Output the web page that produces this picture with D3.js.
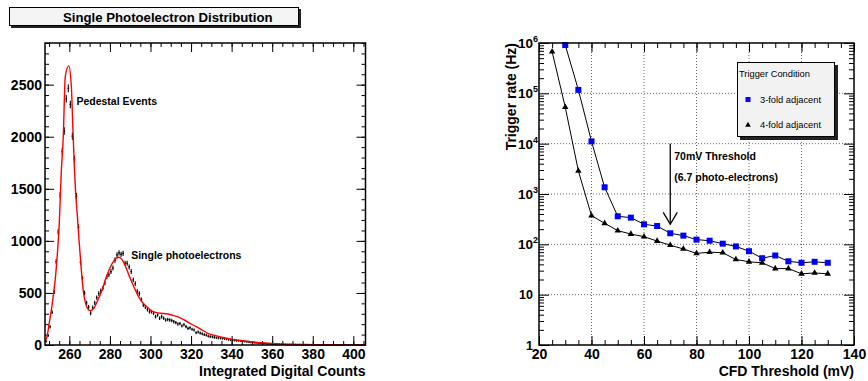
<!DOCTYPE html>
<html>
<head>
<meta charset="utf-8">
<script src="https://cdn.jsdelivr.net/npm/d3@7/dist/d3.min.js"></script>
<style>
	body { margin: 0; background: #fff; }
	svg { font-family: "Liberation Sans", Arial, Helvetica, sans-serif; }
</style>
</head>
<body>
<svg id="chart" width="868" height="381"></svg>
<script>
// ---- left panel: single photoelectron spectrum, 1 count bins starting at 248
var binStart = 248;
var binCounts = [
	35, 90, 175, 315, 510, 800, 1085, 1440, 1860, 2055,
	2365, 2465, 2310, 2005, 1785, 1430, 1130, 795, 640, 500,
	405, 365, 305, 360, 405, 455, 495, 520, 545, 595,
	655, 675, 705, 740, 815, 865, 885, 870, 880, 785,
	785, 750, 705, 625, 590, 515, 495, 435, 385, 365,
	340, 320, 320, 305, 272, 288, 257, 272, 257, 240,
	245, 240, 235, 224, 215, 202, 205, 183, 195, 176,
	160, 165, 151, 144, 118, 125, 115, 108, 100, 95,
	85, 80, 78, 74, 70, 68, 65, 64, 60, 57,
	52, 50, 48, 46, 44, 42, 40, 37, 34, 32,
	30, 27, 25, 22, 21, 19, 17, 15, 14, 12,
	11, 10, 9, 8, 7, 7, 6, 5, 5, 4,
	4, 3, 3, 3, 2, 3, 2, 2, 2, 1,
	2, 1, 1, 2, 1, 1, 1, 1, 1, 0,
	1, 1, 0, 1, 0, 1, 0, 0, 1, 0,
	0, 0, 1, 0, 0, 0, 0, 0
];
// fitted curve (red)
var fitX = [248.2, 249, 250, 251, 252, 253, 254, 255, 256, 257, 258, 259.7, 261, 261.8, 263, 264, 264.8, 266, 267, 268,
	269, 270.3, 272, 274, 276, 278, 280, 282, 284.3, 286, 288, 290, 292, 294, 296, 298, 300, 302, 305, 308,
	311, 314.7, 318, 321, 324.5, 328, 332, 336, 341, 346, 351, 356, 362, 369, 380, 390, 406];
var fitY = [40, 80, 200, 320, 460, 620, 850, 1150, 1650, 2000, 2580, 2680, 2480, 2050, 1500, 1230, 1000, 700, 500, 400,
	350, 330, 350, 430, 520, 640, 740, 810, 843, 820, 740, 640, 550, 470, 410, 370, 335, 315, 305, 300,
	285, 260, 225, 192, 155, 115, 90, 70, 52, 38, 28, 20, 12, 7, 4, 2, 1];
var spectrumXTicks = [260, 280, 300, 320, 340, 360, 380, 400];
var spectrumYTicks = [0, 500, 1000, 1500, 2000, 2500];

// ---- right panel: trigger rate vs CFD threshold
var thresholds3 = [30, 35, 40, 45, 50, 55, 60, 65, 70, 75, 80, 85, 90, 95, 100, 105, 110, 115, 120, 125, 130];
var rate3fold = [910000, 117000, 11100, 1360, 361, 339, 250, 231, 166, 149, 124, 118, 103, 91, 73, 53, 60, 46, 43, 45, 43];
var thresholds4 = [25, 30, 35, 40, 45, 50, 55, 60, 65, 70, 75, 80, 85, 90, 95, 100, 105, 110, 115, 120, 125, 130];
var rate4fold = [670000, 53000, 2870, 371, 262, 187, 160, 142, 116, 96, 81, 66, 70, 68, 50, 45, 43, 33, 33, 26, 27, 26];
var rateXTicks = [20, 40, 60, 80, 100, 120, 140];
var rateYTicks = [1, 10, 100, 1000, 10000, 100000, 1000000];

var svg = d3.select('#chart');

drawSpectrum();
drawRates();

function styleAxis(g, size) {
	g.attr('font-family', null).attr('font-size', size).attr('font-weight', 'bold');
	g.select('.domain').remove();
	g.selectAll('line').attr('stroke', '#000');
	g.selectAll('text').attr('fill', '#000');
}

function drawSpectrum() {
	var left = 45, right = 365.5, top = 43, bottom = 345;
	var x = d3.scaleLinear().domain([248, 406]).range([left, right]),
		y = d3.scaleLinear().domain([0, 2900]).range([bottom, top]);
	var g = svg.append('g');

	// title box
	g.append('rect').attr('x', 11).attr('y', 9).attr('width', 290).attr('height', 19).attr('fill', '#222');
	g.append('rect').attr('x', 9.5).attr('y', 7.5).attr('width', 289).attr('height', 18)
		.attr('fill', '#f4f4f4').attr('stroke', '#000').attr('stroke-width', 1);
	g.append('text').attr('x', 63).attr('y', 21.5)
		.attr('font-size', 13.2).attr('font-weight', 'bold').text('Single Photoelectron Distribution');

	var minorX = d3.range(250, 406, 5),
		minorY = d3.range(0, 2901, 100);

	g.append('g').attr('transform', 'translate(0,' + bottom + ')')
		.call(d3.axisBottom(x).tickValues(minorX).tickSize(-4).tickFormat(''))
		.call(styleAxis, 14);
	g.append('g').attr('transform', 'translate(0,' + bottom + ')')
		.call(d3.axisBottom(x).tickValues(spectrumXTicks).tickSize(-9).tickPadding(4).tickFormat(d3.format('d')))
		.call(styleAxis, 14);
	g.append('g').attr('transform', 'translate(0,' + top + ')')
		.call(d3.axisTop(x).tickValues(minorX).tickSize(-4).tickFormat(''))
		.call(styleAxis, 14);
	g.append('g').attr('transform', 'translate(0,' + top + ')')
		.call(d3.axisTop(x).tickValues(spectrumXTicks).tickSize(-9).tickFormat(''))
		.call(styleAxis, 14);
	g.append('g').attr('transform', 'translate(' + left + ',0)')
		.call(d3.axisLeft(y).tickValues(minorY).tickSize(-4).tickFormat(''))
		.call(styleAxis, 14);
	g.append('g').attr('transform', 'translate(' + left + ',0)')
		.call(d3.axisLeft(y).tickValues(spectrumYTicks).tickSize(-9).tickPadding(3).tickFormat(d3.format('d')))
		.call(styleAxis, 14);
	g.append('g').attr('transform', 'translate(' + right + ',0)')
		.call(d3.axisRight(y).tickValues(minorY).tickSize(-4).tickFormat(''))
		.call(styleAxis, 14);
	g.append('g').attr('transform', 'translate(' + right + ',0)')
		.call(d3.axisRight(y).tickValues(spectrumYTicks).tickSize(-9).tickFormat(''))
		.call(styleAxis, 14);

	// histogram points with error bars
	var bins = binCounts.map(function(v, i) {
		return { x0: binStart + i, x1: binStart + i + 1, v: v, err: 0.6 * Math.sqrt(v) };
	});
	var pts = g.append('g').attr('stroke', '#000').attr('stroke-width', 1.1);
	pts.selectAll('line.ev').data(bins).enter().append('line').attr('class', 'ev')
		.attr('x1', function(d) { return x((d.x0 + d.x1) / 2); })
		.attr('x2', function(d) { return x((d.x0 + d.x1) / 2); })
		.attr('y1', function(d) { return y(d.v - d.err) + 0.8; })
		.attr('y2', function(d) { return y(d.v + d.err) - 0.8; });
	pts.selectAll('line.eh').data(bins).enter().append('line').attr('class', 'eh')
		.attr('x1', function(d) { return x(d.x0) + 0.2; })
		.attr('x2', function(d) { return x(d.x1) - 0.2; })
		.attr('y1', function(d) { return y(d.v); })
		.attr('y2', function(d) { return y(d.v); });

	// fit
	var fit = fitX.map(function(v, i) { return [v, fitY[i]]; });
	g.append('path').datum(fit)
		.attr('fill', 'none').attr('stroke', '#f00').attr('stroke-width', 1.4)
		.attr('d', d3.line().x(function(d) { return x(d[0]); }).y(function(d) { return y(d[1]); }).curve(d3.curveMonotoneX));

	// frame
	g.append('rect').attr('x', left).attr('y', top).attr('width', right - left).attr('height', bottom - top)
		.attr('fill', 'none').attr('stroke', '#000').attr('stroke-width', 1.5);

	g.append('text').attr('x', x(263.5)).attr('y', 105).attr('font-size', 10.5).attr('font-weight', 'bold')
		.text('Pedestal Events');
	g.append('text').attr('x', x(290.5)).attr('y', 259).attr('font-size', 10.5).attr('font-weight', 'bold')
		.text('Single photoelectrons');
	g.append('text').attr('x', right).attr('y', 376).attr('text-anchor', 'end')
		.attr('font-size', 14).attr('font-weight', 'bold').text('Integrated Digital Counts');
}

function drawRates() {
	var left = 539, right = 854, top = 43, bottom = 345;
	var x = d3.scaleLinear().domain([20, 140]).range([left, right]),
		y = d3.scaleLog().domain([1, 1e6]).range([bottom, top]);
	var g = svg.append('g');

	// grid
	var grid = g.append('g').attr('stroke', '#666').attr('stroke-width', 1).attr('stroke-dasharray', '1,2');
	grid.selectAll('line.gx').data(rateXTicks.slice(1, -1)).enter().append('line')
		.attr('x1', function(d) { return x(d); }).attr('x2', function(d) { return x(d); })
		.attr('y1', top).attr('y2', bottom);
	grid.selectAll('line.gy').data(rateYTicks.slice(1, -1)).enter().append('line')
		.attr('y1', function(d) { return y(d); }).attr('y2', function(d) { return y(d); })
		.attr('x1', left).attr('x2', right);

	var minorX = d3.range(25, 140, 5),
		minorY = [];
	for (var k = 0; k < 6; k++) {
		for (var m = 2; m < 10; m++) minorY.push(m * Math.pow(10, k));
	}

	g.append('g').attr('transform', 'translate(0,' + bottom + ')')
		.call(d3.axisBottom(x).tickValues(minorX).tickSize(-5).tickFormat(''))
		.call(styleAxis, 14);
	g.append('g').attr('transform', 'translate(0,' + bottom + ')')
		.call(d3.axisBottom(x).tickValues(rateXTicks).tickSize(-9).tickPadding(4))
		.call(styleAxis, 14);
	g.append('g').attr('transform', 'translate(0,' + top + ')')
		.call(d3.axisTop(x).tickValues(minorX).tickSize(-5).tickFormat(''))
		.call(styleAxis, 14);
	g.append('g').attr('transform', 'translate(0,' + top + ')')
		.call(d3.axisTop(x).tickValues(rateXTicks).tickSize(-9).tickFormat(''))
		.call(styleAxis, 14);
	g.append('g').attr('transform', 'translate(' + left + ',0)')
		.call(d3.axisLeft(y).tickValues(minorY).tickSize(-5).tickFormat(''))
		.call(styleAxis, 14);
	g.append('g').attr('transform', 'translate(' + left + ',0)')
		.call(d3.axisLeft(y).tickValues(rateYTicks).tickSize(-10).tickFormat(''))
		.call(styleAxis, 14);
	g.append('g').attr('transform', 'translate(' + right + ',0)')
		.call(d3.axisRight(y).tickValues(minorY).tickSize(-5).tickFormat(''))
		.call(styleAxis, 14);
	g.append('g').attr('transform', 'translate(' + right + ',0)')
		.call(d3.axisRight(y).tickValues(rateYTicks).tickSize(-10).tickFormat(''))
		.call(styleAxis, 14);

	// log labels, 10^n with superscript
	var labels = g.append('g').attr('font-weight', 'bold').attr('text-anchor', 'end');
	rateYTicks.forEach(function(v) {
		var exp = Math.round(Math.log10(v));
		if (exp < 2) {
			labels.append('text').attr('x', left - 6).attr('y', y(v) + 4.5).attr('font-size', 12.5)
				.text(exp === 0 ? '1' : '10');
		} else {
			var t = labels.append('text').attr('x', left - 1).attr('y', y(v) + 5).attr('font-size', 13.5);
			t.append('tspan').text('10');
			t.append('tspan').attr('dy', -6).attr('font-size', 9).text(exp);
		}
	});

	// series
	var line = d3.line().x(function(d) { return x(d[0]); }).y(function(d) { return y(d[1]); });
	var s3 = thresholds3.map(function(t, i) { return [t, rate3fold[i]]; }),
		s4 = thresholds4.map(function(t, i) { return [t, rate4fold[i]]; });
	g.append('path').datum(s3).attr('fill', 'none').attr('stroke', '#000').attr('stroke-width', 1).attr('d', line);
	g.append('path').datum(s4).attr('fill', 'none').attr('stroke', '#000').attr('stroke-width', 1).attr('d', line);
	g.selectAll('rect.sq').data(s3).enter().append('rect').attr('class', 'sq')
		.attr('x', function(d) { return x(d[0]) - 3; }).attr('y', function(d) { return y(d[1]) - 3; })
		.attr('width', 6).attr('height', 6).attr('fill', '#0000ff');
	var tri = d3.symbol().type(d3.symbolTriangle).size(18);
	g.selectAll('path.tr').data(s4).enter().append('path').attr('class', 'tr')
		.attr('transform', function(d) { return 'translate(' + x(d[0]) + ',' + y(d[1]) + ')'; })
		.attr('d', tri).attr('fill', '#000');

	// frame
	g.append('rect').attr('x', left).attr('y', top).attr('width', right - left).attr('height', bottom - top)
		.attr('fill', 'none').attr('stroke', '#000').attr('stroke-width', 1.5);

	// threshold arrow
	var ax = x(70), a0 = y(10000), a1 = y(250);
	g.append('line').attr('x1', ax).attr('x2', ax).attr('y1', a0).attr('y2', a1).attr('stroke', '#000').attr('stroke-width', 1.3);
	g.append('path').attr('d', 'M' + (ax - 7) + ',' + (a1 - 12) + 'L' + ax + ',' + a1 + 'L' + (ax + 7) + ',' + (a1 - 12))
		.attr('fill', 'none').attr('stroke', '#000').attr('stroke-width', 1.3);
	g.append('text').attr('x', ax + 4).attr('y', 159.5).attr('font-size', 10.5).attr('font-weight', 'bold')
		.text('70mV Threshold');
	g.append('text').attr('x', ax + 4).attr('y', 180.5).attr('font-size', 10.5).attr('font-weight', 'bold')
		.text('(6.7 photo-electrons)');

	// legend
	var lg = g.append('g');
	lg.append('rect').attr('x', 740).attr('y', 65).attr('width', 98).attr('height', 75).attr('fill', '#222');
	lg.append('rect').attr('x', 737.5).attr('y', 62.5).attr('width', 97).attr('height', 74)
		.attr('fill', '#f2f2f2').attr('stroke', '#000').attr('stroke-width', 1);
	lg.append('text').attr('x', 739).attr('y', 77).attr('font-size', 9.3).text('Trigger Condition');
	lg.append('rect').attr('x', 745.5).attr('y', 97).attr('width', 5).attr('height', 5).attr('fill', '#0000ff');
	lg.append('text').attr('x', 760).attr('y', 103).attr('font-size', 9.3).text('3-fold adjacent');
	lg.append('path').attr('transform', 'translate(748,125)').attr('d', d3.symbol().type(d3.symbolTriangle).size(14)).attr('fill', '#000');
	lg.append('text').attr('x', 760).attr('y', 128).attr('font-size', 9.3).text('4-fold adjacent');

	// axis titles
	g.append('text').attr('x', right).attr('y', 376).attr('text-anchor', 'end')
		.attr('font-size', 14).attr('font-weight', 'bold').text('CFD Threshold (mV)');
	g.append('text').attr('transform', 'translate(515.5,' + top + ') rotate(-90)').attr('text-anchor', 'end')
		.attr('font-size', 14).attr('font-weight', 'bold').text('Trigger rate (Hz)');
}
</script>
</body>
</html>
